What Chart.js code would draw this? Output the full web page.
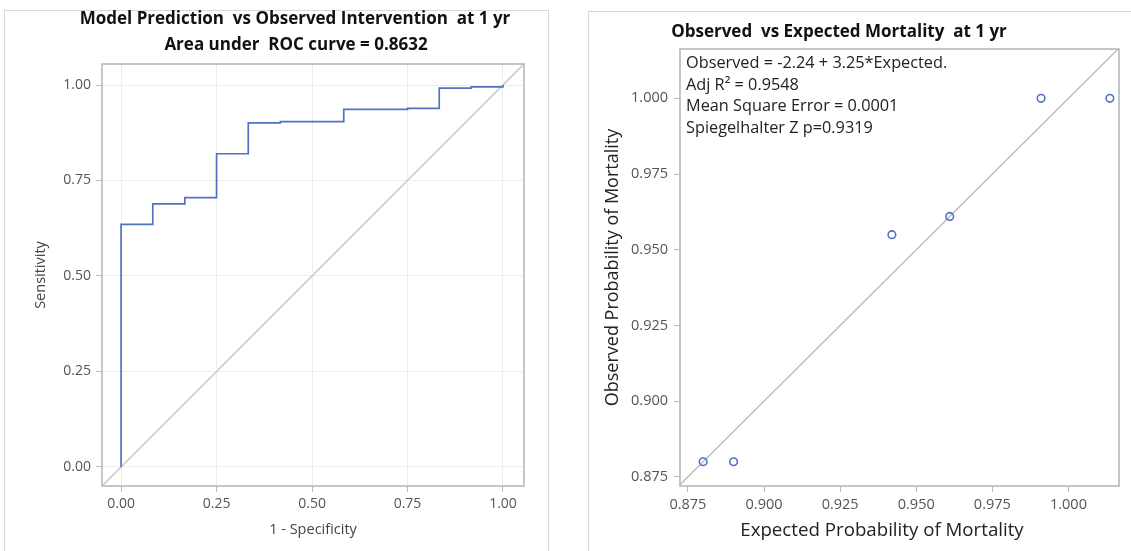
<!DOCTYPE html>
<html lang="en">
  <head>
    <meta charset="UTF-8" />
    <title>ROC and calibration</title>
    <style>
      body {
        margin: 0;
        background: #fff;
        width: 1131px;
        height: 551px;
        overflow: hidden;
        position: relative;
      }
      .panel {
        position: absolute;
        border: 1px solid #d8d8d8;
      }
      canvas {
        position: absolute;
        top: 0;
      }
    </style>
  </head>
  <body>
    <div class="panel" style="left: 4px; top: 10px; width: 543px; height: 560px"></div>
    <div class="panel" style="left: 588px; top: 11px; width: 560px; height: 560px"></div>
    <canvas id="roc" width="548" height="551" style="left: 4px"></canvas>
    <canvas id="calib" width="543" height="551" style="left: 588px"></canvas>

    <script src="https://cdn.jsdelivr.net/npm/chart.js"></script>
    <script>
      // ROC curve vertices (1 - specificity, sensitivity)
      const rocFpr = [0, 0, 0.083, 0.167, 0.25, 0.333, 0.417, 0.583, 0.75, 0.833, 0.917, 1];
      const rocTpr = [0, 0.635, 0.689, 0.705, 0.82, 0.901, 0.904, 0.936, 0.939, 0.992, 0.995, 1];
      const rocTicks = [0, 0.25, 0.5, 0.75, 1];
      const rocRange = [-0.05, 1.055];

      // calibration points
      const expected = [0.88, 0.89, 0.942, 0.961, 0.991, 1.0136];
      const observed = [0.88, 0.88, 0.955, 0.961, 1.0, 1.0];
      const calTicks = [0.875, 0.9, 0.925, 0.95, 0.975, 1.0];
      const calXRange = [0.8724, 1.0166];
      const calYRange = [0.872, 1.0163];

      const statLines = [
        "Observed = -2.24 + 3.25*Expected.",
        "Adj R\u00b2 = 0.9548",
        "Mean Square Error = 0.0001",
        "Spiegelhalter Z p=0.9319",
      ];

      const blue = "#5072c2";
      const frameColor = "#b3bac2";
      const sans = "'Open Sans', sans-serif";

      const framePlugin = {
        id: "frame",
        afterDraw(chart) {
          const { ctx, chartArea: a } = chart;
          ctx.save();
          ctx.strokeStyle = frameColor;
          ctx.lineWidth = 1.6;
          ctx.strokeRect(a.left, a.top, a.right - a.left, a.bottom - a.top);
          ctx.restore();
        },
      };

      const textPlugin = {
        id: "panelText",
        afterDraw(chart, args, opts) {
          const ctx = chart.ctx;
          ctx.save();
          (opts.items || []).forEach((t) => {
            ctx.font = t.font;
            ctx.fillStyle = t.color || "#222";
            ctx.textAlign = t.align || "center";
            ctx.textBaseline = "middle";
            ctx.fillText(t.text, t.x, t.y);
          });
          ctx.restore();
        },
      };

      Chart.defaults.font.family = sans;

      function axis(ticks, range, digits, opts) {
        return {
          type: "linear",
          min: range[0],
          max: range[1],
          afterBuildTicks: (s) => {
            s.ticks = ticks.map((v) => ({ value: v }));
          },
          afterFit: (s) => {
            if (opts.width) s.width = opts.width;
            if (opts.height) s.height = opts.height;
          },
          border: { display: false },
          grid: {
            display: true,
            color: opts.grid ? "#ededed" : "rgba(0,0,0,0)",
            tickColor: frameColor,
            tickLength: 6,
            lineWidth: 1,
          },
          ticks: {
            padding: opts.tickPad,
            color: "#555",
            font: { size: opts.tickSize },
            maxRotation: 0,
            callback: (v) => Number(v).toFixed(digits),
          },
          title: {
            display: !!opts.title,
            text: opts.title || "",
            color: opts.titleColor || "#444",
            font: { size: opts.titleSize },
            padding: opts.titlePad,
          },
        };
      }

      new Chart(document.getElementById("roc"), {
        type: "scatter",
        data: {
          datasets: [
            {
              data: rocFpr.map((x, i) => ({ x, y: rocTpr[i] })),
              showLine: true,
              stepped: "before",
              borderColor: blue,
              borderWidth: 1.7,
              pointRadius: 0,
            },
            {
              data: rocRange.map((v) => ({ x: v, y: v })),
              showLine: true,
              borderColor: "#b9b9b9",
              borderWidth: 1.2,
              pointRadius: 0,
            },
          ],
        },
        options: {
          responsive: false,
          animation: false,
          devicePixelRatio: 1,
          layout: { padding: { top: 64, right: 28, left: 0, bottom: 0 } },
          scales: {
            x: axis(rocTicks, rocRange, 2, {
              height: 65, grid: true, tickSize: 14, tickPad: 4, title: "1 - Specificity", titleSize: 14.5,
              titlePad: { top: 0, bottom: 12 },
            }),
            y: axis(rocTicks, rocRange, 2, {
              width: 98, grid: true, tickSize: 14, tickPad: 5, title: "Sensitivity", titleSize: 14.5,
              titlePad: { top: 28, bottom: 0 },
            }),
          },
          plugins: {
            legend: { display: false },
            tooltip: { enabled: false },
            panelText: {
              items: [
                { text: "Model Prediction  vs Observed Intervention  at 1 yr", x: 291, y: 19, font: "bold 17px 'Open Sans'", color: "#111" },
                { text: "Area under  ROC curve = 0.8632", x: 292, y: 45, font: "bold 17px 'Open Sans'", color: "#111" },
              ],
            },
          },
        },
        plugins: [framePlugin, textPlugin],
      });

      new Chart(document.getElementById("calib"), {
        type: "scatter",
        data: {
          datasets: [
            {
              data: expected.map((x, i) => ({ x, y: observed[i] })),
              pointStyle: "circle",
              pointRadius: 3.8,
              pointBorderWidth: 1.6,
              borderColor: blue,
              backgroundColor: "rgba(255,255,255,0)",
            },
            {
              data: [calXRange[0], calYRange[1]].map((v) => ({ x: v, y: v })),
              showLine: true,
              borderColor: "#b9b9b9",
              borderWidth: 1.3,
              pointRadius: 0,
            },
          ],
        },
        options: {
          responsive: false,
          animation: false,
          devicePixelRatio: 1,
          layout: { padding: { top: 49, right: 12, left: 0, bottom: 0 } },
          scales: {
            x: axis(calTicks, calXRange, 3, {
              height: 65, grid: false, tickSize: 14.5, tickPad: 4,
            }),
            y: axis(calTicks, calYRange, 3, {
              width: 92, grid: false, tickSize: 14.5, tickPad: 6, title: "Observed Probability of Mortality",
              titleSize: 18, titleColor: "#222", titlePad: { top: 14, bottom: 0 },
            }),
          },
          plugins: {
            legend: { display: false },
            tooltip: { enabled: false },
            panelText: {
              items: [
                { text: "Observed  vs Expected Mortality  at 1 yr", x: 251, y: 32, font: "bold 17px 'Open Sans'", color: "#111" },
                { text: "Expected Probability of Mortality", x: 294, y: 531, font: "18.7px 'Open Sans'", color: "#222" },
              ].concat(
                statLines.map((t, i) => ({
                  text: t, x: 98, y: [63, 85, 106.5, 128][i], font: "16.3px 'Open Sans'", align: "left", color: "#222",
                }))
              ),
            },
          },
        },
        plugins: [framePlugin, textPlugin],
      });
    </script>
  </body>
</html>
